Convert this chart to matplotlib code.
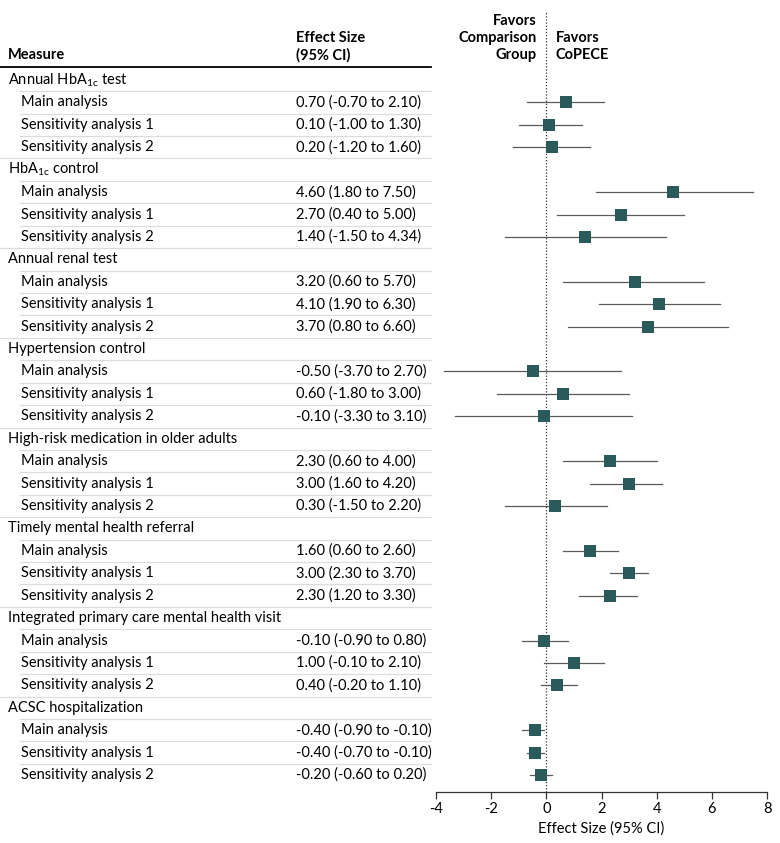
import matplotlib.pyplot as plt
from matplotlib.transforms import blended_transform_factory
from matplotlib.lines import Line2D

plt.rcParams["font.family"] = ["Lato", "DejaVu Sans"]
plt.rcParams["axes.unicode_minus"] = False
plt.rcParams["mathtext.default"] = "regular"

# Data
groups = [
    "Annual HbA$_{1c}$ test",
    "HbA$_{1c}$ control",
    "Annual renal test",
    "Hypertension control",
    "High-risk medication in older adults",
    "Timely mental health referral",
    "Integrated primary care mental health visit",
    "ACSC hospitalization",
]
analyses = ["Main analysis", "Sensitivity analysis 1", "Sensitivity analysis 2"]

estimates = [
    [0.70, 0.10, 0.20],
    [4.60, 2.70, 1.40],
    [3.20, 4.10, 3.70],
    [-0.50, 0.60, -0.10],
    [2.30, 3.00, 0.30],
    [1.60, 3.00, 2.30],
    [-0.10, 1.00, 0.40],
    [-0.40, -0.40, -0.20],
]
lower = [
    [-0.70, -1.00, -1.20],
    [1.80, 0.40, -1.50],
    [0.60, 1.90, 0.80],
    [-3.70, -1.80, -3.30],
    [0.60, 1.60, -1.50],
    [0.60, 2.30, 1.20],
    [-0.90, -0.10, -0.20],
    [-0.90, -0.70, -0.60],
]
upper = [
    [2.10, 1.30, 1.60],
    [7.50, 5.00, 4.34],
    [5.70, 6.30, 6.60],
    [2.70, 3.00, 3.10],
    [4.00, 4.20, 2.20],
    [2.60, 3.70, 3.30],
    [0.80, 2.10, 1.10],
    [-0.10, -0.10, 0.20],
]
xticks = [-4, -2, 0, 2, 4, 6, 8]

W, H = 780, 843
fig = plt.figure(figsize=(W / 100, H / 100), dpi=100)

# plot axes: x from 436 to 767 px, y from top to 792 px
ax = fig.add_axes([436 / W, (H - 792) / H, (767 - 436) / W, 792 / H])
row_h = 22.42
top_row_px = 80
ax.set_ylim((792 - top_row_px) / row_h, -top_row_px / row_h)
ax.set_xlim(-4, 8)

marker_color = "#2b5a5a"
line_color = "#5a5a5a"
sep_color = "#dcdcdc"
fs = 10.5

tr = blended_transform_factory(fig.transFigure, ax.transData)

def fx(px):
    return px / W

n_rows = len(groups) * 4
row = 0
for g, name in enumerate(groups):
    fig.text(fx(8), row, name, transform=tr, va="center", ha="left", fontsize=fs)
    fig.add_artist(Line2D([fx(20), fx(431)], [row + 0.5, row + 0.5], transform=tr,
                          color=sep_color, lw=0.9))
    row += 1
    for k, a in enumerate(analyses):
        est, lo, hi = estimates[g][k], lower[g][k], upper[g][k]
        fig.text(fx(21), row, a, transform=tr, va="center", ha="left", fontsize=fs)
        label = f"{est:.2f} ({lo:.2f} to {hi:.2f})"
        fig.text(fx(296), row, label, transform=tr, va="center", ha="left", fontsize=fs)
        ax.plot([lo, hi], [row, row], color=line_color, lw=0.9, zorder=2)
        ax.plot(est, row, marker="s", ms=9, color=marker_color, zorder=3,
                markeredgewidth=0)
        if row < n_rows - 1:
            x0 = fx(0) if k == 2 else fx(20)
            fig.add_artist(Line2D([x0, fx(431)], [row + 0.5, row + 0.5], transform=tr,
                                  color=sep_color, lw=0.9))
        row += 1

# header
hdr_y = -0.6
fig.add_artist(Line2D([0, fx(431)], [hdr_y, hdr_y], transform=tr, color="black", lw=1.3))
fig.text(fx(8), 1 - 55 / H, "Measure", va="center", ha="left",
         fontsize=fs, fontweight="bold")
fig.text(fx(296), 1 - 38 / H, "Effect Size", va="center", ha="left",
         fontsize=fs, fontweight="bold")
fig.text(fx(296), 1 - 55 / H, "(95% CI)", va="center", ha="left",
         fontsize=fs, fontweight="bold")
fig.text(fx(537), 1 - 21 / H, "Favors", va="center", ha="right", fontsize=fs, fontweight="bold")
fig.text(fx(537), 1 - 38 / H, "Comparison", va="center", ha="right", fontsize=fs, fontweight="bold")
fig.text(fx(537), 1 - 55 / H, "Group", va="center", ha="right", fontsize=fs, fontweight="bold")
fig.text(fx(556), 1 - 38 / H, "Favors", va="center", ha="left", fontsize=fs, fontweight="bold")
fig.text(fx(556), 1 - 55 / H, "CoPECE", va="center", ha="left", fontsize=fs, fontweight="bold")

# reference line at zero
ax.axvline(0, ymin=0, ymax=1 - 12 / 792, color="#333333", lw=0.9, ls=(0, (1, 1.5)), zorder=1)

for s in ["top", "right", "left"]:
    ax.spines[s].set_visible(False)
ax.spines["bottom"].set_color("#333333")
ax.spines["bottom"].set_linewidth(0.9)
ax.set_yticks([])
ax.set_xticks(xticks)
ax.set_xticklabels([str(t) for t in xticks])
ax.tick_params(axis="x", length=5, width=0.9, color="#333333", labelsize=fs, pad=2)
ax.set_xlabel("Effect Size (95% CI)", fontsize=fs, labelpad=4)
ax.patch.set_visible(False)

fig.savefig("out.png", dpi=100)
